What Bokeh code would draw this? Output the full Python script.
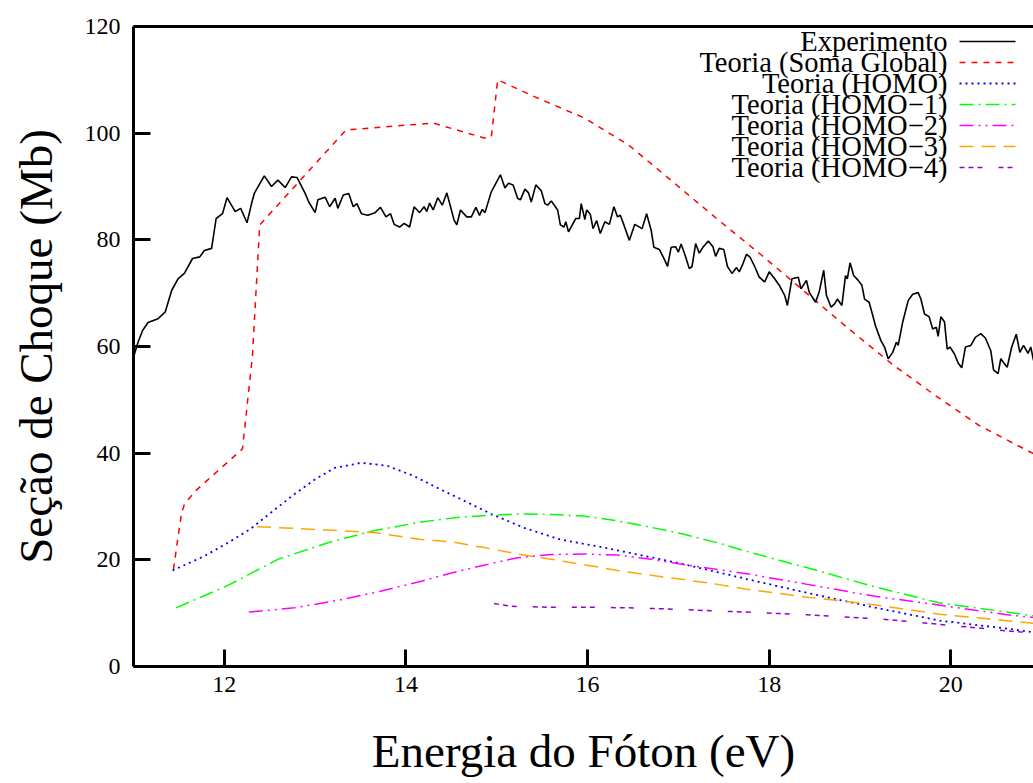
from bokeh.plotting import figure
from bokeh.models import Range1d, FixedTicker, LinearAxis
from bokeh.embed import file_html
from bokeh.resources import INLINE
from bokeh.core.properties import value

# ---------------- data ----------------
exp_x = [11.00, 11.05, 11.10, 11.16, 11.27, 11.35, 11.42, 11.49, 11.56, 11.65, 11.73, 11.78, 11.86, 11.91, 11.98,
         12.03, 12.12, 12.18, 12.25, 12.30, 12.33, 12.44, 12.52, 12.59, 12.67, 12.74, 12.80, 12.89, 12.93, 13.00,
         13.03, 13.11, 13.16, 13.22, 13.25, 13.31, 13.37, 13.42, 13.46, 13.51, 13.58, 13.66, 13.72, 13.78, 13.83,
         13.87, 13.93, 13.98, 14.04, 14.09, 14.15, 14.20, 14.23, 14.26, 14.30, 14.35, 14.40, 14.45, 14.48, 14.53,
         14.56, 14.60, 14.67, 14.72, 14.77, 14.81, 14.84, 14.87, 14.94, 15.00, 15.04, 15.09, 15.13, 15.18, 15.23,
         15.26, 15.31, 15.35, 15.38, 15.43, 15.49, 15.53, 15.56, 15.60, 15.67, 15.70, 15.74, 15.76, 15.79, 15.87,
         15.91, 15.93, 15.97, 15.99, 16.03, 16.06, 16.10, 16.14, 16.19, 16.24, 16.29, 16.33, 16.36, 16.40, 16.46,
         16.52, 16.60, 16.65, 16.70, 16.73, 16.79, 16.85, 16.88, 16.92, 16.97, 17.00, 17.03, 17.08, 17.12, 17.15,
         17.19, 17.23, 17.27, 17.33, 17.38, 17.41, 17.45, 17.50, 17.54, 17.59, 17.64, 17.67, 17.71, 17.75, 17.79,
         17.84, 17.89, 17.95, 18.00, 18.06, 18.11, 18.17, 18.20, 18.25, 18.32, 18.35, 18.41, 18.44, 18.51, 18.55,
         18.60, 18.63, 18.68, 18.72, 18.75, 18.80, 18.84, 18.86, 18.89, 18.93, 18.98, 19.02, 19.05, 19.10, 19.14,
         19.17, 19.23, 19.27, 19.31, 19.36, 19.40, 19.42, 19.47, 19.53, 19.58, 19.64, 19.67, 19.71, 19.76, 19.80,
         19.84, 19.86, 19.89, 19.93, 19.96, 19.99, 20.04, 20.08, 20.12, 20.16, 20.22, 20.27, 20.33, 20.38, 20.44,
         20.47, 20.52, 20.55, 20.58, 20.62, 20.67, 20.72, 20.76, 20.80, 20.85, 20.88, 20.91]
exp_y = [58.0, 60.8, 63.0, 64.5, 65.2, 66.5, 70.5, 72.7, 73.7, 76.5, 76.8, 78.0, 78.4, 84.0, 84.9,
         87.9, 85.3, 85.9, 83.2, 86.8, 88.7, 92.0, 90.0, 91.2, 89.8, 91.8, 91.7, 88.7, 87.1, 85.1,
         87.5, 88.0, 86.2, 87.8, 85.9, 88.4, 88.7, 86.2, 86.8, 84.9, 84.6, 85.1, 86.1, 84.3, 84.9,
         82.9, 82.4, 83.1, 82.4, 86.2, 85.1, 86.2, 85.3, 86.9, 85.6, 87.9, 86.5, 88.8, 86.9, 83.7,
         82.8, 85.6, 84.3, 84.3, 86.1, 84.6, 85.7, 85.1, 89.0, 90.9, 92.2, 89.7, 90.6, 90.3, 87.8,
         87.5, 89.5, 88.8, 87.1, 90.3, 89.2, 86.8, 86.5, 87.3, 85.6, 82.8, 82.4, 83.4, 81.5, 84.0,
         84.0, 86.8, 83.8, 85.6, 84.8, 82.1, 83.6, 81.2, 83.4, 82.9, 86.2, 84.3, 84.6, 82.8, 79.9,
         82.9, 82.1, 84.9, 81.8, 78.6, 78.2, 76.2, 75.0, 78.6, 78.7, 77.7, 79.2, 76.8, 74.6, 75.0,
         79.3, 77.5, 78.6, 79.8, 78.7, 76.9, 78.4, 78.2, 75.0, 73.7, 74.8, 74.0, 75.5, 77.3, 76.7,
         75.0, 73.0, 72.1, 74.0, 72.7, 71.5, 69.6, 67.7, 72.7, 73.0, 70.8, 72.4, 70.2, 68.3, 70.2,
         74.3, 69.6, 67.4, 68.0, 68.9, 67.7, 73.3, 72.7, 75.7, 73.3, 72.4, 71.5, 68.9, 68.3, 65.8,
         63.9, 61.1, 59.9, 57.7, 58.9, 60.8, 60.2, 64.6, 68.6, 69.8, 70.1, 68.9, 66.1, 65.6, 63.3,
         63.6, 61.9, 65.6, 64.6, 59.5, 59.9, 58.6, 56.9, 56.0, 59.9, 60.2, 61.7, 62.4, 61.6, 59.2,
         55.6, 54.9, 57.7, 57.0, 56.1, 59.9, 62.3, 58.9, 60.2, 58.7, 59.9, 57.4]

soma_x = [11.44, 11.51, 11.53, 11.56, 11.68, 11.93, 12.20, 12.31, 12.39, 13.34, 14.30, 14.86, 14.94, 15.01,
          15.42, 15.97, 16.45, 16.93, 17.42, 17.91, 18.39, 18.87, 19.36, 19.83, 20.31, 20.91]
soma_y = [18.2, 26.6, 28.8, 30.4, 32.9, 36.7, 40.8, 58.3, 82.8, 100.6, 101.9, 99.1, 99.3, 110.0,
          106.8, 102.8, 97.8, 91.0, 84.0, 77.2, 70.3, 63.4, 56.6, 50.8, 45.2, 39.9]

homo_x = [11.43, 11.78, 12.04, 12.28, 12.51, 12.77, 13.00, 13.21, 13.51, 13.80, 14.09, 14.38, 14.59, 14.94,
          15.30, 15.70, 16.15, 16.55, 17.00, 17.43, 17.75, 18.42, 19.15, 19.88, 20.62, 20.91]
homo_y = [18.0, 20.7, 23.2, 25.7, 28.8, 32.3, 35.1, 37.2, 38.2, 37.6, 35.7, 33.2, 31.5, 28.6,
          26.0, 23.8, 22.4, 21.0, 19.4, 17.7, 16.4, 13.8, 11.1, 8.6, 7.1, 6.4]

homo1_x = [11.47, 12.04, 12.59, 13.14, 13.66, 14.17, 14.59, 14.98, 15.23, 15.60, 15.96, 16.33, 16.70, 17.06,
           17.43, 17.75, 18.42, 19.15, 19.88, 20.62, 20.91]
homo1_y = [11.0, 15.2, 20.1, 23.2, 25.5, 27.1, 28.0, 28.4, 28.6, 28.5, 28.2, 27.3, 26.1, 24.8,
           23.2, 21.6, 18.5, 15.0, 11.9, 10.2, 9.5]

homo2_x = [12.27, 12.77, 13.25, 13.72, 14.17, 14.49, 14.86, 15.23, 15.60, 15.96, 16.33, 16.70, 17.06, 17.43,
           17.75, 18.42, 19.15, 19.88, 20.62, 20.91]
homo2_y = [10.2, 11.0, 12.4, 14.1, 16.0, 17.5, 19.0, 20.4, 21.0, 21.1, 20.9, 20.1, 19.1, 18.2,
           17.4, 15.4, 13.2, 11.5, 9.7, 9.2]

homo3_x = [12.36, 12.77, 13.25, 13.66, 14.17, 14.49, 14.86, 15.23, 15.60, 15.96, 16.33, 16.70, 17.06, 17.43,
           17.75, 18.42, 19.15, 19.88, 20.62, 20.91]
homo3_y = [26.2, 25.9, 25.5, 25.1, 23.8, 23.4, 22.3, 21.1, 20.1, 19.1, 18.0, 17.1, 16.3, 15.4,
           14.5, 13.0, 11.6, 9.8, 8.6, 8.1]

homo4_x = [14.97, 15.15, 15.60, 16.04, 16.44, 16.88, 17.28, 17.75, 18.42, 19.23, 19.75, 20.19, 20.67, 20.91]
homo4_y = [11.8, 11.3, 11.1, 11.1, 11.0, 10.8, 10.5, 10.2, 9.7, 8.9, 8.1, 7.4, 6.6, 6.3]

x_ticks = [12, 14, 16, 18, 20]
y_ticks = [0, 20, 40, 60, 80, 100, 120]

labels = ["Experimento", "Teoria (Soma Global)", "Teoria (HOMO)", "Teoria (HOMO\u22121)",
          "Teoria (HOMO\u22122)", "Teoria (HOMO\u22123)", "Teoria (HOMO\u22124)"]

# ---------------- layout / style ----------------
W, H = 1033, 783
LEFT, TOP, BOTTOM, RIGHT = 133, 26, 117, 0
X0, X1 = 11.0, 20.91
Y0, Y1 = 0.0, 120.0
FONT = "Liberation Serif"

styles = [
    dict(line_color="black", line_width=1.6),
    dict(line_color="#ff0000", line_width=1.5, line_dash="6 6"),
    dict(line_color="#0000ff", line_width=1.8, line_dash="2 4"),
    dict(line_color="#00ff00", line_width=1.5, line_dash="14 5 2 5"),
    dict(line_color="#ff00ff", line_width=1.5, line_dash="14 5 2 5 2 5"),
    dict(line_color="#ffa500", line_width=1.5, line_dash="14 8"),
    dict(line_color="#9400d3", line_width=1.5, line_dash="5 4 5 4 5 16"),
]

p = figure(width=W, height=H, x_range=Range1d(X0, X1), y_range=Range1d(Y0, Y1),
           output_backend="svg", toolbar_location=None,
           min_border_left=LEFT, min_border_right=RIGHT, min_border_top=TOP, min_border_bottom=BOTTOM,
           outline_line_color=None, background_fill_color="white", border_fill_color="white")
p.grid.visible = False

series = [(exp_x, exp_y), (soma_x, soma_y), (homo_x, homo_y), (homo1_x, homo1_y),
          (homo2_x, homo2_y), (homo3_x, homo3_y), (homo4_x, homo4_y)]
# draw theory curves first, experiment on top
for (xs, ys), st in list(zip(series, styles))[1:]:
    p.line(xs, ys, **st)
p.line(exp_x, exp_y, **styles[0])

# axes
for ax, ticks in ((p.xaxis[0], x_ticks), (p.yaxis[0], y_ticks)):
    ax.ticker = FixedTicker(ticks=ticks)
    ax.axis_line_width = 3
    ax.axis_line_color = "black"
    ax.major_tick_in = 17
    ax.major_tick_out = 0
    ax.major_tick_line_width = 3
    ax.minor_tick_in = 0
    ax.minor_tick_out = 0
    ax.major_label_text_font = FONT
    ax.major_label_text_font_size = "24px"
    ax.major_label_text_color = "black"
    ax.axis_label_text_font = FONT
    ax.axis_label_text_font_style = "normal"
    ax.axis_label_text_font_size = "47px"
    ax.axis_label_text_color = "black"

p.xaxis[0].axis_label = "Energia do Fóton (eV)"
p.xaxis[0].major_label_standoff = 10
p.xaxis[0].axis_label_standoff = 30
p.yaxis[0].axis_label = "Seção de Choque (Mb)"
p.yaxis[0].major_label_standoff = 13
p.yaxis[0].axis_label_standoff = 20

top_axis = LinearAxis(ticker=FixedTicker(ticks=[]), axis_line_width=3, axis_line_color="black",
                      major_tick_in=0, major_tick_out=0, minor_tick_in=0, minor_tick_out=0,
                      major_label_text_font_size="0px")
p.add_layout(top_axis, "above")

# legend (text to the left of the sample, as in the reference)
def px_to_x(px):
    return X0 + (px - LEFT) * (X1 - X0) / (W - LEFT - RIGHT)

def py_to_y(py):
    return Y1 - (py - TOP) * (Y1 - Y0) / (H - TOP - BOTTOM)

row_y = [py_to_y(41 + 21 * i) for i in range(len(labels))]
p.text(x=[px_to_x(947)] * len(labels), y=row_y, text=labels, text_align="right",
       text_baseline="middle", text_font=value(FONT), text_font_size="28.5px", text_color="black")
for yy, st in zip(row_y, styles):
    p.line([px_to_x(959), px_to_x(1015)], [yy, yy], **st)

open("out.html", "w").write(file_html(p, INLINE))
